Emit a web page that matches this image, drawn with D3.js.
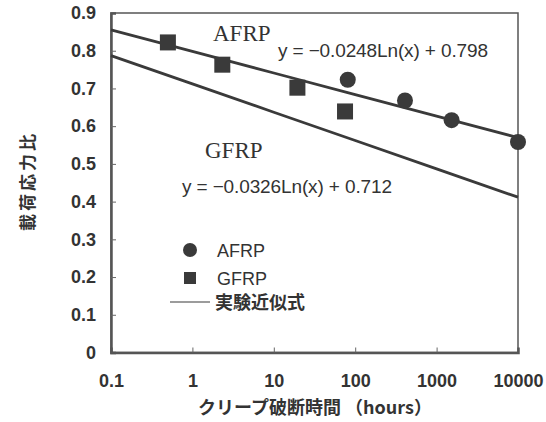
<!DOCTYPE html>
<html>
<head>
<meta charset="utf-8">
<script src="https://cdn.jsdelivr.net/npm/d3@7"></script>
<style>
  body { margin: 0; background: #fff; }
  svg text { fill: #333; }
</style>
</head>
<body>
<svg id="chart" width="546" height="422"></svg>
<script>
// data
const afrpHours = [81, 409, 1530, 10000];
const afrpRatio = [0.723, 0.668, 0.616, 0.558];
const gfrpHours = [0.5, 2.33, 19.5, 75];
const gfrpRatio = [0.822, 0.763, 0.702, 0.639];
// fitted lines: y = a*ln(x) + b
const fitNames = ["AFRP", "GFRP"];
const fitA = [-0.0248, -0.0326];
const fitB = [0.798, 0.712];
const fitLabels = ["y = \u22120.0248Ln(x) + 0.798", "y = \u22120.0326Ln(x) + 0.712"];
const xTicks = [0.1, 1, 10, 100, 1000, 10000];
const yTicks = [0, 0.1, 0.2, 0.3, 0.4, 0.5, 0.6, 0.7, 0.8, 0.9];

const width = 546, height = 422;
const margin = {top: 13, left: 111, right: 28, bottom: 69.5};
const ink = "#3a3a3a";
const serif = "Liberation Serif, Times New Roman, serif";
const sans = "Liberation Sans, Arial, sans-serif";
const jp = "Noto Sans CJK JP, sans-serif";

const svg = d3.select("#chart");

const x = d3.scaleLog()
  .domain([0.1, 10000])
  .range([margin.left, width - margin.right]);

const y = d3.scaleLinear()
  .domain([0, 0.9])
  .range([height - margin.bottom, margin.top]);

// frame
svg.append("rect")
  .attr("x", x(0.1)).attr("y", y(0.9))
  .attr("width", x(10000) - x(0.1))
  .attr("height", y(0) - y(0.9))
  .attr("fill", "none")
  .attr("stroke", "#555")
  .attr("stroke-width", 1.5);

// axes, ticks inside
const xAxis = d3.axisBottom(x)
  .tickValues(xTicks)
  .tickSize(-5)
  .tickPadding(22)
  .tickFormat(d => String(d));

const yAxis = d3.axisLeft(y)
  .tickValues(yTicks)
  .tickSize(-5)
  .tickPadding(15)
  .tickFormat(d => d === 0 ? "0" : d3.format(".1f")(d));

const gx = svg.append("g")
  .attr("transform", `translate(0,${y(0)})`)
  .call(xAxis);
const gy = svg.append("g")
  .attr("transform", `translate(${x(0.1)},0)`)
  .call(yAxis);

[gx, gy].forEach(g => {
  g.select(".domain").attr("stroke", "#555").attr("stroke-width", 2.5);
  g.selectAll(".tick line").attr("stroke", "#666").attr("stroke-width", 1);
  g.selectAll(".tick text")
    .attr("font-family", sans)
    .attr("font-size", 18)
    .attr("font-weight", "bold")
    .attr("fill", "#3c3c3c");
});
gx.selectAll(".tick line").filter(d => d === 0.1 || d === 10000).remove();
gy.selectAll(".tick line").filter(d => d === 0 || d === 0.9).remove();

// fit lines
fitA.forEach((a, k) => {
  const pts = xTicks.map(h => [x(h), y(a * Math.log(h) + fitB[k])]);
  svg.append("path")
    .attr("d", d3.line()(pts))
    .attr("fill", "none")
    .attr("stroke", ink)
    .attr("stroke-width", 2.8);
});

// markers
svg.append("g").selectAll("circle")
  .data(afrpHours)
  .join("circle")
  .attr("cx", d => x(d))
  .attr("cy", (d, i) => y(afrpRatio[i]))
  .attr("r", 8)
  .attr("fill", ink);

const sq = 16;
svg.append("g").selectAll("rect")
  .data(gfrpHours)
  .join("rect")
  .attr("x", d => x(d) - sq / 2)
  .attr("y", (d, i) => y(gfrpRatio[i]) - sq / 2)
  .attr("width", sq)
  .attr("height", sq)
  .attr("fill", ink);

// series names and equations
svg.append("text")
  .attr("x", 213).attr("y", 41)
  .attr("font-family", serif).attr("font-size", 23)
  .text(fitNames[0]);
svg.append("text")
  .attr("x", 278).attr("y", 57)
  .attr("font-family", sans).attr("font-size", 19)
  .attr("textLength", 210)
  .text(fitLabels[0]);
svg.append("text")
  .attr("x", 205).attr("y", 158)
  .attr("font-family", serif).attr("font-size", 23)
  .text(fitNames[1]);
svg.append("text")
  .attr("x", 182).attr("y", 193)
  .attr("font-family", sans).attr("font-size", 19)
  .attr("textLength", 210)
  .text(fitLabels[1]);

// legend
const lg = svg.append("g");
lg.append("circle").attr("cx", 190).attr("cy", 250).attr("r", 7).attr("fill", ink);
lg.append("text").attr("x", 217).attr("y", 257)
  .attr("font-family", sans).attr("font-size", 18).text("AFRP");
lg.append("rect").attr("x", 184).attr("y", 272).attr("width", 12).attr("height", 12).attr("fill", ink);
lg.append("text").attr("x", 217).attr("y", 285)
  .attr("font-family", sans).attr("font-size", 18).text("GFRP");
lg.append("line").attr("x1", 170).attr("x2", 210).attr("y1", 302).attr("y2", 302)
  .attr("stroke", ink).attr("stroke-width", 1.2);
lg.append("text").attr("x", 215).attr("y", 309)
  .attr("font-family", jp).attr("font-weight", "bold")
  .attr("font-size", 18).text("実験近似式");

// axis titles
svg.append("text")
  .attr("x", 315).attr("y", 414)
  .attr("text-anchor", "middle")
  .attr("font-family", jp).attr("font-weight", "bold")
  .attr("font-size", 18)
  .text("クリープ破断時間 （hours）");

svg.append("text")
  .attr("transform", "translate(26,181) rotate(-90)")
  .attr("text-anchor", "middle")
  .attr("dominant-baseline", "central")
  .attr("font-family", jp).attr("font-weight", "bold")
  .attr("font-size", 17)
  .attr("letter-spacing", 3)
  .text("載荷応力比");
</script>
</body>
</html>
